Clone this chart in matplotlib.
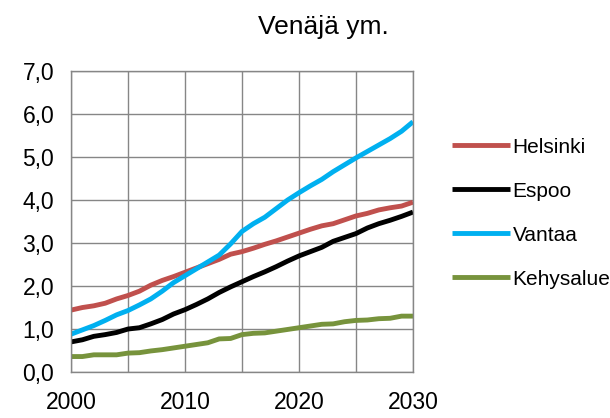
import matplotlib
matplotlib.use("Agg")
import matplotlib.pyplot as plt
from matplotlib.ticker import FuncFormatter, MultipleLocator

plt.rcParams["font.family"] = ["Liberation Sans", "DejaVu Sans"]

years = list(range(2000, 2031))

helsinki = [1.44, 1.50, 1.54, 1.60, 1.70, 1.78, 1.88, 2.02, 2.13, 2.22, 2.32,
            2.42, 2.52, 2.62, 2.74, 2.80, 2.88, 2.97, 3.05, 3.14, 3.23,
            3.32, 3.40, 3.45, 3.54, 3.63, 3.69, 3.77, 3.82, 3.86, 3.95]
espoo = [0.70, 0.75, 0.83, 0.87, 0.92, 1.00, 1.03, 1.12, 1.22, 1.35, 1.45,
         1.57, 1.70, 1.85, 1.98, 2.10, 2.22, 2.33, 2.45, 2.58, 2.70,
         2.80, 2.90, 3.04, 3.13, 3.22, 3.35, 3.45, 3.53, 3.62, 3.72]
vantaa = [0.88, 0.98, 1.08, 1.20, 1.33, 1.43, 1.56, 1.70, 1.88, 2.08, 2.24,
          2.40, 2.56, 2.72, 2.98, 3.27, 3.45, 3.60, 3.80, 4.00, 4.17,
          4.33, 4.48, 4.66, 4.82, 4.98, 5.13, 5.28, 5.43, 5.60, 5.82]
kehysalue = [0.36, 0.36, 0.40, 0.40, 0.40, 0.44, 0.45, 0.49, 0.52, 0.56, 0.60,
             0.64, 0.68, 0.77, 0.78, 0.87, 0.90, 0.91, 0.95, 0.99, 1.03,
             1.07, 1.11, 1.12, 1.17, 1.20, 1.21, 1.24, 1.25, 1.30, 1.30]

series = [
    ("Helsinki", helsinki, "#C0504D"),
    ("Espoo", espoo, "#000000"),
    ("Vantaa", vantaa, "#00B0F0"),
    ("Kehysalue", kehysalue, "#77933C"),
]

fig = plt.figure(figsize=(6.1, 4.18), dpi=100)
ax = fig.add_axes([0.1164, 0.110, 0.5606, 0.720])

for name, vals, col in series:
    ax.plot(years, vals, color=col, lw=3.5, label=name, solid_capstyle="butt")

ax.set_xlim(2000, 2030)
ax.set_ylim(0, 7)
ax.xaxis.set_major_locator(MultipleLocator(10))
ax.xaxis.set_minor_locator(MultipleLocator(5))
ax.yaxis.set_major_locator(MultipleLocator(1))
ax.yaxis.set_major_formatter(FuncFormatter(lambda v, p: f"{v:.1f}".replace(".", ",")))

ax.grid(True, which="both", color="#868686", lw=1.0)
ax.set_axisbelow(True)
for s in ax.spines.values():
    s.set_color("#868686")
    s.set_linewidth(1.0)
ax.tick_params(which="both", length=0, labelsize=16.5, colors="black")
ax.tick_params(axis="y", pad=12)
ax.tick_params(axis="x", pad=14)

fig.text(0.53, 0.935, "Venäjä ym.", ha="center", va="center", fontsize=19)

fig.legend(loc="center left", bbox_to_anchor=(0.71, 0.49), frameon=False,
           fontsize=15, handlelength=2.8, handletextpad=0.12, labelspacing=1.2)

fig.savefig("out.png", dpi=100)
